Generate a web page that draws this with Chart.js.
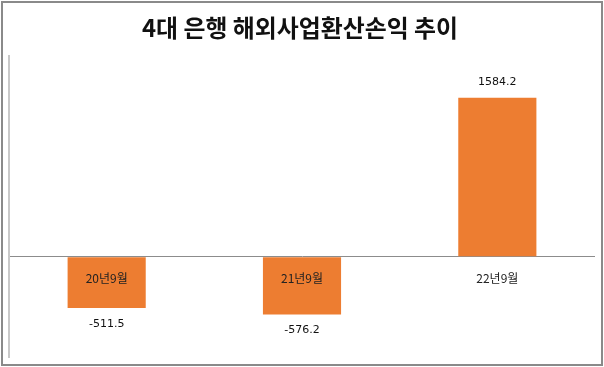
<!DOCTYPE html>
<html>
<head>
<meta charset="utf-8">
<script src="https://cdn.jsdelivr.net/npm/chart.js@4"></script>
<style>
  body { margin: 0; background: #fff; }
  #wrap { width: 604px; height: 367px; }
</style>
</head>
<body>
<div id="wrap"><canvas id="chart" width="604" height="367"></canvas></div>
<script>
// chart data
const chartTitle = "4대 은행 해외사업환산손익 추이";
const periods = ["20년9월", "21년9월", "22년9월"];
const fxGainLoss = [-511.5, -576.2, 1584.2];

const barColor = "#ED7D31";

// draws the title, outer frame, category names at the zero line and value labels
const labelPlugin = {
  id: "labels",
  afterDatasetsDraw(chart) {
    const ctx = chart.ctx;
    const x = chart.scales.x;
    const y = chart.scales.y;
    const zero = y.getPixelForValue(0);
    ctx.save();
    ctx.textAlign = "center";
    ctx.textBaseline = "middle";

    // title font in the original is a bit condensed, so squeeze it to width
    ctx.fillStyle = "#111";
    ctx.font = "bold 24px 'Noto Sans CJK KR'";
    ctx.fillText(chartTitle, 300, 28, 316);

    periods.forEach((p, i) => {
      const cx = x.getPixelForValue(i);
      ctx.fillStyle = "#222";
      ctx.font = "12px 'Noto Sans CJK KR'";
      ctx.fillText(p, cx, zero + 22);
      const v = fxGainLoss[i];
      const vy = y.getPixelForValue(v);
      ctx.font = "11px 'DejaVu Sans'";
      ctx.fillStyle = "#111";
      ctx.fillText(v.toFixed(1), cx, v >= 0 ? vy - 16 : vy + 16);
    });
    ctx.strokeStyle = "#8a8a8a";
    ctx.lineWidth = 2;
    ctx.strokeRect(2, 2, 600, 363);
    ctx.restore();
  },
};

const ctx = document.getElementById("chart").getContext("2d");
new Chart(ctx, {
  type: "bar",
  data: {
    labels: periods,
    datasets: [
      {
        data: fxGainLoss,
        backgroundColor: barColor,
        borderWidth: 0,
        categoryPercentage: 1,
        barPercentage: 0.4,
      },
    ],
  },
  options: {
    responsive: false,
    animation: false,
    layout: { padding: { left: 9, right: 9, top: 56, bottom: 10 } },
    plugins: {
      legend: { display: false },
      tooltip: { enabled: false },
      title: { display: false },
    },
    scales: {
      x: {
        display: false,
      },
      y: {
        min: -1000,
        max: 2000,
        ticks: { display: false, stepSize: 500 },
        border: { display: true, color: "#c8c8c8", width: 2 },
        grid: {
          drawTicks: false,
          color: (c) => (c.tick && c.tick.value === 0 ? "#8c8c8c" : "rgba(0,0,0,0)"),
        },
      },
    },
  },
  plugins: [labelPlugin],
});
</script>
</body>
</html>
